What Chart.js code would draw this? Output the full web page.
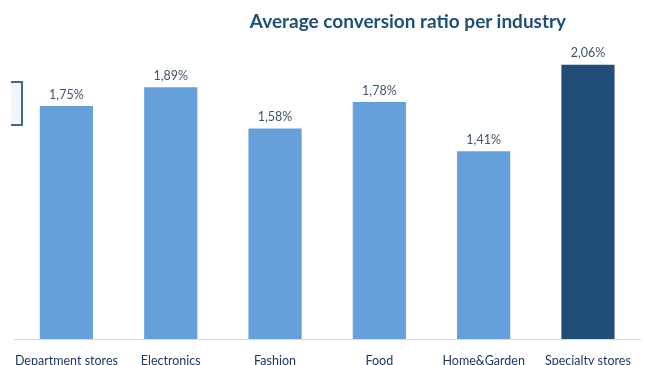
<!DOCTYPE html>
<html>
<head>
<meta charset="utf-8">
<script src="https://cdn.jsdelivr.net/npm/chart.js@4"></script>
<style>
  html, body { margin: 0; padding: 0; overflow: hidden; background: #fff; }
  #wrap { position: relative; width: 645px; height: 382px; }
  #title {
    position: absolute; left: 0; top: 9px; width: 816px; text-align: center;
    font: bold 19px Lato, sans-serif; color: #1f4e79;
  }
  #box {
    position: absolute; left: 11px; top: 81px; width: 10px; height: 41px;
    border: 2px solid #44678f; border-left: none; background: #f2f5fa;
  }
</style>
</head>
<body>
<div id="wrap">
  <canvas id="chart" width="645" height="382"></canvas>
  <div id="title">Average conversion ratio per industry</div>
  <div id="box"></div>
</div>
<script>
// 数据
const categories = ['Department stores', 'Electronics', 'Fashion', 'Food', 'Home&Garden', 'Specialty stores'];
const ratios = [1.75, 1.89, 1.58, 1.78, 1.41, 2.06];
const barColors = ['#65a0da', '#65a0da', '#65a0da', '#65a0da', '#65a0da', '#204e79'];

// 数值标签 (逗号小数)
const valueLabels = {
    id: 'valueLabels',
    afterDatasetsDraw(chart) {
        const ctx = chart.ctx;
        const meta = chart.getDatasetMeta(0);
        ctx.save();
        ctx.font = '12.5px Lato, sans-serif';
        ctx.fillStyle = '#44546a';
        ctx.textAlign = 'center';
        ctx.textBaseline = 'bottom';
        meta.data.forEach(function(bar, i) {
            const txt = ratios[i].toFixed(2).replace('.', ',') + '%';
            ctx.fillText(txt, bar.x, bar.y - 5);
        });
        ctx.restore();
    }
};

new Chart(document.getElementById('chart'), {
    type: 'bar',
    data: {
        labels: categories,
        datasets: [{
            data: ratios,
            backgroundColor: barColors,
            borderWidth: 0,
            categoryPercentage: 1,
            barPercentage: 0.51
        }]
    },
    options: {
        responsive: false,
        animation: false,
        layout: { padding: { left: 12, right: 4, top: 46, bottom: 0 } },
        plugins: {
            legend: { display: false },
            tooltip: { enabled: false }
        },
        scales: {
            y: {
                display: false,
                beginAtZero: true,
                max: 2.2
            },
            x: {
                grid: { display: false, drawTicks: false },
                border: { color: '#d9d9d9', width: 1 },
                ticks: {
                    color: '#1f3864',
                    padding: 14,
                    maxRotation: 0,
                    autoSkip: false,
                    font: { family: 'Lato, sans-serif', size: 12.5 }
                }
            }
        }
    },
    plugins: [valueLabels]
});
</script>
</body>
</html>
